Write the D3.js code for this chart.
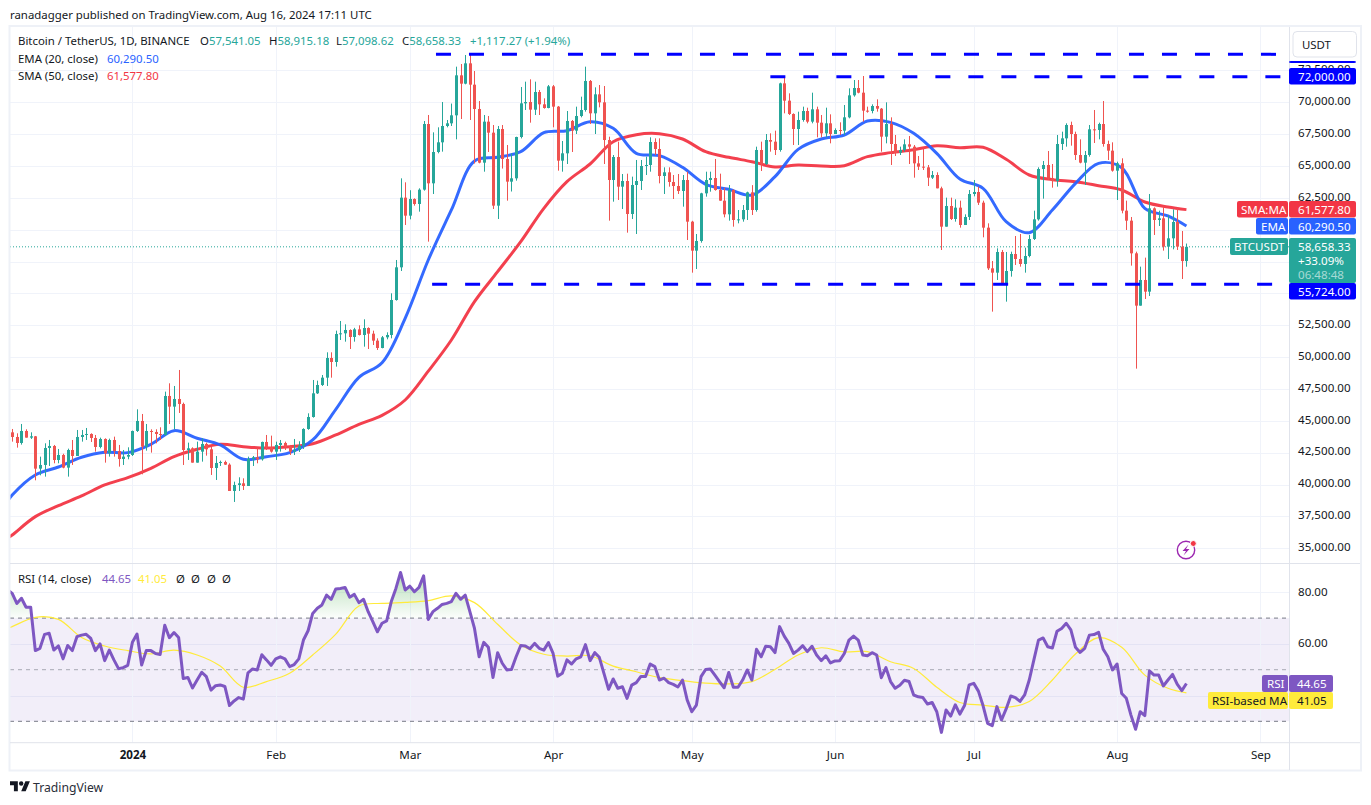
<!DOCTYPE html>
<html>
<head>
<meta charset="utf-8">
<script src="https://d3js.org/d3.v7.min.js"></script>
<style>
  html, body { margin: 0; background: #fff; }
  svg { display: block; }
  text { font-family: "Noto Sans", sans-serif; fill: #131722; }
  .tick text { font-size: 11.6px; fill: #131722; }
  .tag { font-size: 11.6px; fill: #fff; }
</style>
</head>
<body>
<div id="chart"></div>
<script>
// first candle is 6 Dec 2023, one candle per day up to 16 Aug 2024
var firstDay = new Date(Date.UTC(2023, 11, 6));
var firstOpen = 44100;

var closes = [
  // Dec
  43736,43265,44207,43684,43788,41250,41539,42873,43030,41930,42324,41330,42715,42245,43736,43893,43972,43658,42951,43579,42454,43500,42637,42010,42193,42324,
  // Jan
  44207,44992,42978,44207,44129,43970,43893,46954,46117,46718,46326,42716,42847,41722,42585,43187,42768,41303,41696,41775,41566,39498,39970,40100,39891,42010,42141,41984,43344,42926,42585,
  // Feb
  43109,43265,42978,42585,42716,43060,44364,45305,47162,47816,48391,49935,49621,51818,51870,52132,51583,52184,51740,52289,51844,51295,50720,51557,51740,54486,57050,62517,61104,
  // Mar
  62412,62020,63144,68297,63642,66100,66859,68141,68350,68978,72116,71462,73058,71384,69475,65263,68481,67617,61889,67905,65551,63773,64034,67277,69919,70024,69422,70809,69841,69553,71253,
  // Apr
  69658,65420,65996,68533,67774,68926,69396,71672,69135,70625,69997,67041,63903,65707,63379,63824,61234,63510,63824,65001,65080,66884,66335,64216,64504,63746,63431,63039,63902,60633,
  // May
  58357,59116,62856,63903,64058,63117,62281,61209,63117,60764,60816,61548,62934,61548,66257,65158,67041,66911,66257,71488,70128,69082,67905,68611,69317,68480,69448,68402,67565,68350,67512,
  // Jun
  67826,67774,68820,70546,71122,70755,69343,69317,69709,69500,67303,68297,66728,66048,66257,66702,66519,65210,64949,64896,64086,64295,63249,60241,61863,60842,61732,60372,61000,62804,
  // Jul
  62961,62124,60162,56971,56631,58253,55794,56762,58096,57703,57311,57939,59273,60816,64766,65080,64034,63825,66728,67172,68219,67512,65864,65263,65864,67879,67827,68297,66728,66205,64635,
  // Aug
  65211,61496,60711,58148,54042,56056,55140,61679,60764,60895,58672,59326,60607,58672,57541.05,58658.33
];

var highs = [
  44364,44024,44756,44339,44100,43815,42193,43240,43501,43109,42795,42420,42820,43501,44286,44286,44442,44024,43893,43684,43632,43606,43762,43109,42716,42926,
  44240,45907,45541,44756,44338,44338,44495,47294,47948,47738,48994,46431,43291,42926,43370,43632,43291,42978,42245,41880,41880,41670,40231,40572,40493,42193,42245,42847,43370,43893,43841,
  43370,43501,43370,43109,43579,43400,44420,45593,48209,48156,48601,50380,50380,52080,52838,52576,52184,52300,52498,52969,52341,52080,51478,51661,51949,55009,57625,64033,63720,
  63100,62464,63249,68533,69004,67643,68036,70024,68611,69900,72796,73006,73712,73790,72456,70102,69004,68925,68219,68141,68219,66650,65990,67300,71201,71619,71802,71619,70966,70311,71358,
  71358,69710,66964,69317,68611,69658,70442,72796,71750,71174,71357,71279,67300,65864,66911,64373,64400,64165,65472,65472,65733,67251,67172,67172,64896,64896,64294,64373,64294,64556,
  60700,59666,62900,64556,64556,65551,64400,63300,63510,63170,61548,61940,62987,63500,66518,66911,67512,67565,67774,71540,72011,70703,69134,69265,69657,69578,70755,69657,69004,69578,69055,
  67957,68428,69788,71095,71749,71749,72063,69657,69840,70232,69552,69997,68820,67434,66519,67094,67356,66650,65786,66388,65080,64609,64504,63380,62517,62517,62386,62281,61208,63118,
  63903,63380,62281,60502,57547,58541,58410,58253,58279,59509,59666,58593,59588,61496,64897,65394,66179,65158,67434,67696,68350,68480,67696,67094,66179,68219,69396,68402,70102,66990,66859,
  65341,65604,62281,61000,58279,57103,57809,62804,61758,61496,61810,61156,61601,61679,59901,58915.18
];

var lows = [
  43370,42900,43135,43684,43580,40336,40728,40624,41460,41670,41670,41277,40624,41540,42245,43370,43501,43344,42585,42847,41722,42193,42193,41409,41539,41984,
  42245,44128,40807,42663,42507,43240,43501,43841,44756,44338,45620,41539,41932,41722,41722,41800,42272,40755,40362,41460,41540,39498,38636,39498,39577,39891,41460,41670,41880,42716,42507,
  41932,42585,42716,42324,42324,42560,42800,44300,45253,47110,47738,47738,48391,49255,51347,51216,50641,51216,51700,50824,50641,50955,50563,50693,51400,51478,54434,56762,60372,
  60816,61889,61418,63066,59064,62804,65996,66127,68036,68141,67094,68690,71410,68611,65200,65210,64556,66100,61627,60843,64800,62281,63000,63850,67166,69396,68402,69004,69004,69500,69527,
  68036,64635,64556,65158,66100,67512,68821,69265,68300,67512,69605,65158,60711,62202,62333,61627,59770,60842,59666,63117,64294,64556,65864,63640,62804,63379,62411,62804,61810,59195,
  56631,56919,58984,62595,62987,63065,62281,60973,60711,60240,60502,60633,60764,61156,61417,64608,65080,66126,65864,66126,69134,69004,66650,66650,68480,68349,68349,67251,67251,67251,66780,
  67512,67434,67423,68741,70441,70703,68480,69186,69134,69265,66126,66780,65080,65786,65864,66126,65158,64086,64688,64688,63432,63981,63249,58410,60241,60764,60633,60162,60372,60764,
  62621,61941,59404,56841,53571,56056,55742,54356,56318,57233,57102,56632,57834,59195,60712,62438,63903,63301,63380,66257,66519,66597,65472,65210,63511,65733,66806,67094,66518,65472,64557,
  62333,61287,59980,57181,49098,54042,54565,54800,59588,60293,58358,57704,58463,58410,56134,57098.62
];

// moving averages every 5th candle, plus the ends
var maDays = [-1].concat(d3.range(0, 251, 5), [254]);
var ema20 = [38700,39185,40754,41382,42141,42533,42507,43161,44233,43632,43109,41984,42193,42507,
  43500,45907,48418,49569,53047,57625,61549,65394,65682,66126,67617,67774,68480,
  67957,65995,65812,64896,63562,63170,62725,64164,66309,67120,67434,68532,68428,
  67565,65995,63981,63249,60633,59770,61549,63641,65211,64870,61679,61078,60290.5];
var sma50 = [35800,36046,37485,38348,39107,39970,40545,41278,42193,42768,43161,42978,42873,42978,
  43200,43893,44730,45436,46639,48900,51347,54356,56710,59064,61680,63772,65158,
  66910,67460,67538,67120,66126,65681,65341,64922,65079,65001,65027,65733,66050,
  66283,66597,66440,66466,65525,64295,63929,63772,63458,63118,62176,61784,61577.8];

// starts one day before the first candle, the line runs off the left edge
var rsi = [
  81,79.6,75.7,77.7,74.2,74.2,57.4,58.3,63.7,64.1,57.6,59.2,54.2,59.4,57.4,62.8,63.4,63.7,62.1,57.4,60,53.5,57.6,53.8,50.4,50.8,51.7,
  60.6,63.8,51.8,57.4,57.4,56.3,55.9,67.2,62.4,64.4,62.5,46.6,47,42.9,46,49,47.3,42.1,43.8,44.1,43.5,36.1,37.9,39.2,38.6,48.8,50.3,49.9,55.8,53.8,51.7,
  54.2,55,54.2,51.2,52,54.2,61.5,65.1,71.8,73.8,75.1,78.9,77.3,81.3,81.5,81.9,78.1,79.2,76,77.3,72.5,68.6,64.7,68,68.9,76.4,81.5,87.7,80.9,
  82.4,80.2,81.9,86.4,69.5,72.5,73.8,75.3,75.7,76.4,79.6,77.3,78.9,72.5,66,55,60.6,58.7,47,56.6,52.5,49.9,50.1,55,59.4,59.2,58.1,60.2,58.3,57.6,
  60.5,56.3,47.5,48.6,53.8,52.2,54.2,55,59.7,53.5,56.6,54.8,48.6,42.4,46.4,42.8,43.4,38.9,44,45,47.4,47.4,52.2,51.2,46,46.7,45,44.3,
  43.3,46,38.3,33.7,36.3,47.3,50.1,50.3,47.9,45.4,43,48.9,43.2,43.2,46,49.9,46,57.9,55,59.1,58.9,56.6,66.7,63,60.2,56.3,57.6,59.3,57,59.1,55.7,53.5,55.4,
  52.6,53.4,53.5,56.3,61.5,63,61.5,55.7,55.4,56.6,55.7,46.9,50.8,45.4,42.8,44,45.9,45.4,40.2,39.5,39.2,36.7,37.3,33.7,25.7,34.4,32,36.4,32.8,36.1,44.1,
  44.7,41.7,36.1,29.2,28.3,35.7,30.5,34.8,39.8,39.2,37.7,40.2,46,53.8,61.5,62.3,58.9,58.4,64.9,66,68,65.4,58.7,56.7,58.3,63.4,63.6,64.5,57.9,55,49.9,52.2,
  40.8,38.9,32.4,26.9,33.7,32.2,49.5,47.9,47.9,43.7,46,48.2,44.4,41.9,44.65
];
var rsiMa = [66,66.7,70.3,69.5,62.5,59.2,57.4,56.1,57.6,55.7,51.4,43.2,45.4,48.6,
  55.7,63.8,74.7,75.7,76.1,76.8,78.6,76,67.6,59.6,56,55.3,55.4,
  51.4,49.2,46.9,45.8,44.8,44.5,45.4,50.1,55.7,58.5,56.9,57,53.1,
  50.5,43.2,37.3,36.3,35.4,37.7,46,56.1,62.4,58.7,47.9,42.8,41.05];

var priceTicks = [35000,37500,40000,42500,45000,47500,50000,52500,55000,57500,60000,62500,65000,67500,70000,72500];
var priceLabels = [35000,37500,40000,42500,45000,47500,50000,52500,62500,65000,67500,70000,72500];
var rsiTicks = [40,60,80];
var rsiLabels = [60,80];
var rsiBands = [30,50,70];
var monthTicks = [[2024,0],[2024,1],[2024,2],[2024,3],[2024,4],[2024,5],[2024,6],[2024,7],[2024,8]]
    .map(function(d) { return new Date(Date.UTC(d[0], d[1], 1)); });
var levels = [
  { price: 73764, from: new Date(Date.UTC(2024,2,6,16)) },
  { price: 72000, from: new Date(Date.UTC(2024,4,18)) },
  { price: 55724, from: new Date(Date.UTC(2024,2,5,20)) }
];

var width = 1371, height = 805,
    plot = { left: 10, right: 1289, top: 27, mid: 563.5, rsiBottom: 742.5, bottom: 770 };

var teal = "#26a69a", red = "#ef5350", blue = "#2962ff", smaRed = "#f23645",
    purple = "#7e57c2", yellow = "#ffeb3b", grid = "#f0f3fa", line = "#e0e3eb";

var candles = closes.map(function(c, i) {
  return {
    date: d3.utcDay.offset(firstDay, i),
    open: i ? closes[i - 1] : firstOpen,
    high: highs[i], low: lows[i], close: c
  };
});

var x = d3.scaleUtc()
    .domain([monthTicks[0], monthTicks[8]])
    .range([132.4, 1260.4]);
// 35000 and 70000 sit on the gridlines at these pixels
var y = d3.scaleLinear().domain([35000, 70000]).range([548.3, 102.3]);
var yRsi = d3.scaleLinear().domain([30, 80]).range([721.3, 592.3]);

var svg = d3.select("#chart").append("svg")
    .attr("width", width).attr("height", height);

var defs = svg.append("defs");
defs.append("clipPath").attr("id", "mainClip").append("rect")
    .attr("x", plot.left).attr("y", plot.top)
    .attr("width", plot.right - plot.left).attr("height", plot.mid - plot.top);
defs.append("clipPath").attr("id", "rsiClip").append("rect")
    .attr("x", plot.left).attr("y", plot.mid)
    .attr("width", plot.right - plot.left).attr("height", plot.rsiBottom - plot.mid);
defs.append("clipPath").attr("id", "overClip").append("rect")
    .attr("x", plot.left).attr("y", plot.mid)
    .attr("width", plot.right - plot.left).attr("height", yRsi(70) - plot.mid);
var grad = defs.append("linearGradient").attr("id", "overGrad")
    .attr("gradientUnits", "userSpaceOnUse")
    .attr("x1", 0).attr("x2", 0).attr("y1", yRsi(88)).attr("y2", yRsi(70));
grad.append("stop").attr("offset", 0).attr("stop-color", "#4caf50").attr("stop-opacity", 0.42);
grad.append("stop").attr("offset", 1).attr("stop-color", "#4caf50").attr("stop-opacity", 0.02);

svg.append("text").attr("x", 10).attr("y", 19).style("font-size", "11.4px")
    .text("ranadagger published on TradingView.com, Aug 16, 2024 17:11 UTC");

// gridlines
svg.append("g").selectAll("line").data(priceTicks).enter().append("line")
    .attr("x1", plot.left).attr("x2", plot.right)
    .attr("y1", function(d) { return Math.round(y(d)) + 0.5; })
    .attr("y2", function(d) { return Math.round(y(d)) + 0.5; })
    .attr("stroke", grid);
svg.append("g").selectAll("line").data(rsiTicks).enter().append("line")
    .attr("x1", plot.left).attr("x2", plot.right)
    .attr("y1", function(d) { return Math.round(yRsi(d)) + 0.5; })
    .attr("y2", function(d) { return Math.round(yRsi(d)) + 0.5; })
    .attr("stroke", grid);

// rsi band sits under the vertical gridlines
svg.append("rect")
    .attr("x", plot.left).attr("width", plot.right - plot.left)
    .attr("y", yRsi(70)).attr("height", yRsi(30) - yRsi(70))
    .attr("fill", "#7e57c2").attr("fill-opacity", 0.1);

svg.append("g").selectAll("line").data(monthTicks).enter().append("line")
    .attr("x1", function(d) { return Math.round(x(d)) + 0.5; })
    .attr("x2", function(d) { return Math.round(x(d)) + 0.5; })
    .attr("y1", plot.top).attr("y2", plot.rsiBottom)
    .attr("stroke", grid);

// last price dotted line
svg.append("line")
    .attr("x1", plot.left).attr("x2", plot.right)
    .attr("y1", y(closes[closes.length - 1])).attr("y2", y(closes[closes.length - 1]))
    .attr("stroke", teal).attr("stroke-dasharray", "1 2");

var main = svg.append("g").attr("clip-path", "url(#mainClip)");

function maPoints(values) {
  return d3.zip(maDays, values).map(function(d) {
    return { date: d3.utcDay.offset(firstDay, d[0]), value: d[1] };
  });
}
var maLine = d3.line()
    .x(function(d) { return x(d.date); })
    .y(function(d) { return y(d.value); })
    .curve(d3.curveCatmullRom.alpha(0.5));

main.append("path").datum(maPoints(sma50))
    .attr("d", maLine).attr("fill", "none").attr("stroke", smaRed)
    .attr("stroke-width", 3).attr("stroke-opacity", 0.95);
main.append("path").datum(maPoints(ema20))
    .attr("d", maLine).attr("fill", "none").attr("stroke", blue)
    .attr("stroke-width", 3).attr("stroke-opacity", 0.95);

function candleColor(d) { return d.close >= d.open ? teal : red; }

var candle = main.selectAll(".candle").data(candles).enter().append("g")
    .attr("class", "candle");
candle.append("line")
    .attr("x1", function(d) { return Math.round(x(d.date)) + 0.5; })
    .attr("x2", function(d) { return Math.round(x(d.date)) + 0.5; })
    .attr("y1", function(d) { return y(d.high); })
    .attr("y2", function(d) { return y(d.low); })
    .attr("stroke", candleColor);
candle.append("rect")
    .attr("x", function(d) { return Math.round(x(d.date)) - 1; })
    .attr("width", 3)
    .attr("y", function(d) { return y(Math.max(d.open, d.close)); })
    .attr("height", function(d) { return Math.max(1, Math.abs(y(d.open) - y(d.close))); })
    .attr("fill", candleColor);

// horizontal levels
svg.append("g").selectAll("line").data(levels).enter().append("line")
    .attr("x1", function(d) { return x(d.from); })
    .attr("x2", plot.right)
    .attr("y1", function(d) { return y(d.price); })
    .attr("y2", function(d) { return y(d.price); })
    .attr("stroke", "#0000ff").attr("stroke-width", 3)
    .attr("stroke-dasharray", "15 18");

// rsi pane
svg.append("g").selectAll("line").data(rsiBands).enter().append("line")
    .attr("x1", plot.left).attr("x2", plot.right)
    .attr("y1", function(d) { return yRsi(d); })
    .attr("y2", function(d) { return yRsi(d); })
    .attr("stroke", "#787b86")
    .attr("stroke-opacity", function(d) { return d === 50 ? 0.6 : 1; })
    .attr("stroke-dasharray", "4 4");

var rsiPoints = rsi.map(function(v, i) {
  return { date: d3.utcDay.offset(firstDay, i - 1), value: v };
});
svg.append("path").datum(rsiPoints)
    .attr("clip-path", "url(#overClip)")
    .attr("fill", "url(#overGrad)")
    .attr("d", d3.area()
        .x(function(d) { return x(d.date); })
        .y0(yRsi(70))
        .y1(function(d) { return yRsi(d.value); }));

var rsiMaPoints = d3.zip(maDays, rsiMa).map(function(d) {
  return { date: d3.utcDay.offset(firstDay, d[0]), value: d[1] };
});
var rsiPane = svg.append("g").attr("clip-path", "url(#rsiClip)");
rsiPane.append("path").datum(rsiMaPoints)
    .attr("fill", "none").attr("stroke", yellow).attr("stroke-width", 1.2)
    .attr("d", d3.line()
        .x(function(d) { return x(d.date); })
        .y(function(d) { return yRsi(d.value); })
        .curve(d3.curveCatmullRom.alpha(0.5)));
rsiPane.append("path").datum(rsiPoints)
    .attr("fill", "none").attr("stroke", purple).attr("stroke-width", 3)
    .attr("stroke-linejoin", "round")
    .attr("d", d3.line()
        .x(function(d) { return x(d.date); })
        .y(function(d) { return yRsi(d.value); }));

// axes
var priceAxis = d3.axisRight(y).tickValues(priceLabels).tickSize(0).tickPadding(9)
    .tickFormat(d3.format(",.2f"));
var gPrice = svg.append("g").attr("transform", "translate(" + plot.right + ",-1.5)").call(priceAxis);
gPrice.select(".domain").remove();

var rsiAxis = d3.axisRight(yRsi).tickValues(rsiLabels).tickSize(0).tickPadding(9)
    .tickFormat(d3.format(".2f"));
var gRsi = svg.append("g").attr("transform", "translate(" + plot.right + ",-1)").call(rsiAxis);
gRsi.select(".domain").remove();

var timeAxis = d3.axisBottom(x).tickValues(monthTicks).tickSize(0).tickPadding(8)
    .tickFormat(function(d) { return d.getUTCMonth() === 0 ? d.getUTCFullYear() : d3.utcFormat("%b")(d); });
var gTime = svg.append("g").attr("transform", "translate(0," + plot.rsiBottom + ")").call(timeAxis);
gTime.select(".domain").remove();
gTime.selectAll("text").style("font-weight", function(d) { return d.getUTCMonth() === 0 ? 700 : 400; });

// frame and separators
svg.append("rect").attr("x", 9.5).attr("y", 26)
    .attr("width", 1351.5).attr("height", 744.5)
    .attr("fill", "none").attr("stroke", "#eef1f7").attr("stroke-width", 2);
svg.append("line").attr("x1", plot.right + 0.5).attr("x2", plot.right + 0.5)
    .attr("y1", 27).attr("y2", plot.bottom).attr("stroke", line);
svg.append("line").attr("x1", plot.left).attr("x2", 1360)
    .attr("y1", plot.mid).attr("y2", plot.mid).attr("stroke", line);
svg.append("line").attr("x1", plot.left).attr("x2", 1360)
    .attr("y1", plot.rsiBottom + 0.2).attr("y2", plot.rsiBottom + 0.2).attr("stroke", line);

// USDT button
svg.append("rect").attr("x", 1293).attr("y", 31.5).attr("width", 63.5).attr("height", 25.5).attr("rx", 4)
    .attr("fill", "#fff").attr("stroke", line);
svg.append("text").attr("x", 1302).attr("y", 48.5).style("font-size", "11.4px").text("USDT");

// legend
function legendText(tx, ty, str, color) {
  return svg.append("text").attr("x", tx).attr("y", ty).style("font-size", "11.4px")
      .style("fill", color || "#131722").text(str);
}
legendText(18, 45, "Bitcoin / TetherUS, 1D, BINANCE");
[["O", 200, "57,541.05"], ["H", 269, "58,915.18"], ["L", 336, "57,098.62"], ["C", 402, "58,658.33"]].forEach(function(d) {
  var t = legendText(d[1], 45, d[0]);
  t.append("tspan").style("fill", teal).text(d[2]);
});
legendText(470, 45, "+1,117.27 (+1.94%)", teal);
legendText(18, 63, "EMA (20, close)");
legendText(107, 63, "60,290.50", blue);
legendText(18, 80, "SMA (50, close)");
legendText(107, 80, "61,577.80", smaRed);
legendText(18, 583, "RSI (14, close)");
legendText(102, 583, "44.65", purple);
legendText(138, 583, "41.05", yellow);
[176, 191, 207, 222].forEach(function(tx) { legendText(tx, 583, "Ø", "#131722"); });

// price tags
function tag(x0, x1, y0, y1, fill) {
  svg.append("rect").attr("x", x0).attr("y", y0).attr("width", x1 - x0).attr("height", y1 - y0)
      .attr("rx", 2).attr("fill", fill);
}
function tagText(tx, ty, str, color, opacity) {
  svg.append("text").attr("class", "tag").attr("x", tx).attr("y", ty)
      .style("fill", color || "#fff").style("fill-opacity", opacity || 1).text(str);
}
tag(1289, 1356, 61, 63, "#0000ff");
tag(1289, 1356, 68, 84.5, "#0000ff");
tagText(1298, 80.5, "72,000.00");
tag(1237, 1288, 201, 217.5, smaRed);
tag(1289, 1356, 201, 217.5, smaRed);
tagText(1241, 213.5, "SMA:MA");
tagText(1298, 213.5, "61,577.80");
tag(1256, 1288, 218, 234.5, blue);
tag(1289, 1356, 218, 234.5, blue);
tagText(1261, 230.5, "EMA");
tagText(1298, 230.5, "60,290.50");
tag(1230, 1288, 238, 255, teal);
tag(1289, 1356, 238, 283, teal);
tagText(1234, 250.5, "BTCUSDT");
tagText(1298, 250.5, "58,658.33");
tagText(1298, 264.5, "+33.09%");
tagText(1298, 278.5, "06:48:48", "#fff", 0.6);
tag(1289, 1356, 283, 299.5, "#0000ff");
tagText(1298, 295.5, "55,724.00");

tag(1262, 1288, 675, 692, purple);
tag(1289, 1333, 675, 692, purple);
tagText(1267, 687.5, "RSI");
tagText(1297, 687.5, "44.65");
tag(1208, 1288, 692, 709, yellow);
tag(1289, 1333, 692, 709, yellow);
tagText(1212, 704.5, "RSI-based MA", "#131722");
tagText(1297, 704.5, "41.05", "#131722");

// small lightning icon
svg.append("circle").attr("cx", 1186).attr("cy", 550).attr("r", 8.7)
    .attr("fill", "#fff").attr("stroke", "#9c27b0").attr("stroke-width", 1.4);
svg.append("path").attr("d", "M1188.5 544.5L1182.5 551H1186L1183.5 555.5L1189.5 549H1186Z").attr("fill", "#9c27b0");
svg.append("circle").attr("cx", 1193.3).attr("cy", 543.5).attr("r", 3)
    .attr("fill", "#f23645").attr("stroke", "#fff");

// logo
svg.append("g").attr("transform", "translate(10,779) scale(0.56)")
    .append("path").attr("fill", "#131722")
    .attr("d", "M14 22H7V11H0V4h14v18zM28 22h-8l7.5-18h8L28 22zM20 4a4 4 0 1 1 0 8a4 4 0 0 1 0-8z");
svg.append("text").attr("x", 33).attr("y", 792).style("font-size", "12.2px").style("fill", "#2a2e39").text("TradingView");
</script>
</body>
</html>
